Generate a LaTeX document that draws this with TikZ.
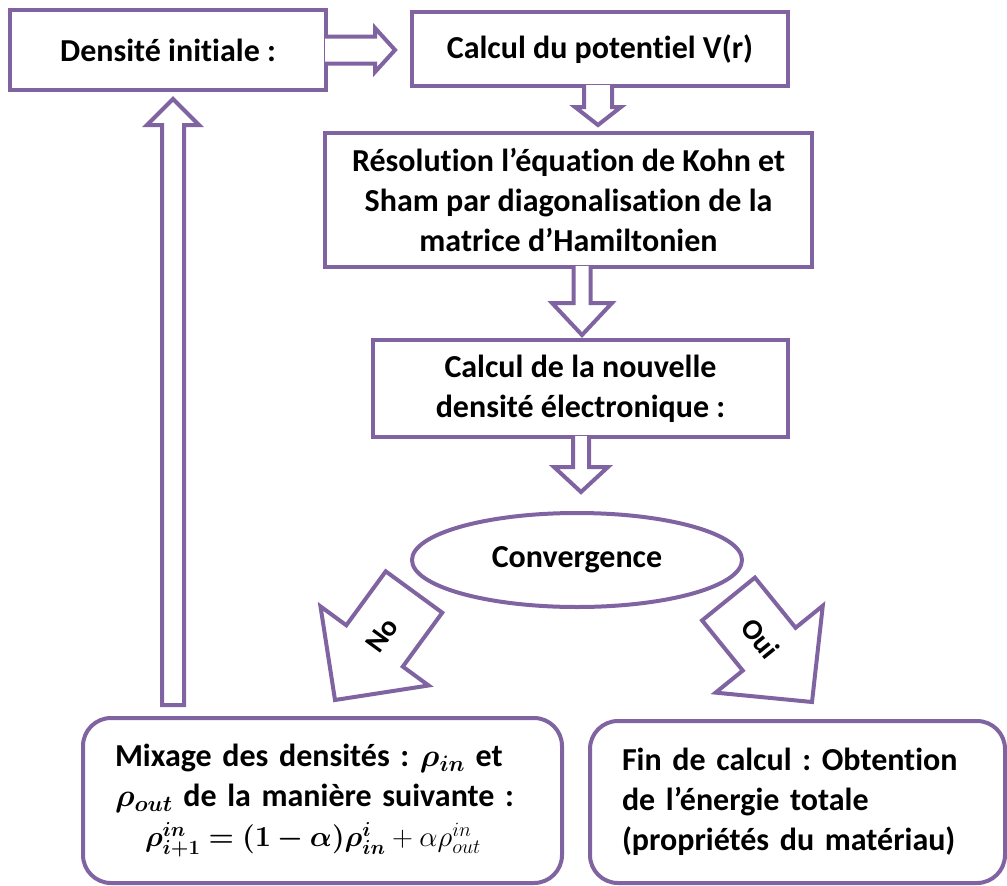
\RequirePackage{fix-cm}
\documentclass[tikz,border=0pt]{standalone}
\usepackage{amsmath}
\usepackage{bm}
\usepackage[no-math]{fontspec}
\setmainfont{Carlito}[Ligatures=NoCommon]
\usetikzlibrary{shapes.geometric,calc}
\definecolor{kspurple}{HTML}{8064A2}
\frenchspacing

\newcommand{\blockarrow}[6][]{%
  \fill[white] ($(#2)!#4!90:(#3)$) -- ($(#3)!#6!(#2)!#4!90:(#3)$) -- ($(#3)!#6!(#2)!#5!90:(#3)$) -- (#3)
    -- ($(#3)!#6!(#2)!#5!-90:(#3)$) -- ($(#3)!#6!(#2)!#4!-90:(#3)$) -- ($(#2)!#4!-90:(#3)$) -- cycle;
  \draw[arrline] ($(#2)!#4!90:(#3)$) -- ($(#3)!#6!(#2)!#4!90:(#3)$) -- ($(#3)!#6!(#2)!#5!90:(#3)$) -- (#3)
    -- ($(#3)!#6!(#2)!#5!-90:(#3)$) -- ($(#3)!#6!(#2)!#4!-90:(#3)$) -- ($(#2)!#4!-90:(#3)$) #1;
}

\begin{document}
\begin{tikzpicture}[x=1pt, y=-1pt,
  box/.style={draw=kspurple, line width=4pt, fill=white, align=center, inner sep=0pt, font=\fontsize{32}{40}\selectfont\bfseries},
  rbox/.style={box, rounded corners=28pt, align=left},
  arrline/.style={draw=kspurple, line width=4pt, line join=miter},
  lbl/.style={font=\fontsize{29}{36}\selectfont\bfseries}
]
  \useasboundingbox (0,0) rectangle (1007,886);

  \node[box, minimum width=316pt, minimum height=80pt] (dens) at (168,50) {Densité initiale :};
  \node[box, minimum width=376pt, minimum height=74pt] (pot) at (600,49) {Calcul du potentiel V(r)};
  \node[box, minimum width=487pt, minimum height=134pt] (kohn) at (568.5,200) {Résolution l’équation de Kohn et\\Sham par diagonalisation de la\\matrice d’Hamiltonien};
  \node[box, minimum width=415pt, minimum height=97pt] (dnew) at (580.5,388.5) {Calcul de la nouvelle\\densité électronique :};
  \node[box, ellipse, minimum width=330pt, minimum height=94pt] (conv) at (577,560) {Convergence};
  \node[rbox, minimum width=479pt, minimum height=165pt, text width=415pt] (mix) at (322.5,800.5) {Mixage des densités : $\bm{\rho_{in}}$ et\\$\bm{\rho_{out}}$ de la manière suivante :\\\hspace*{30pt}{\fontsize{29}{40}\selectfont$\bm{\rho^{in}_{i+1}=(1-\alpha)\rho^{i}_{in}}+\alpha\rho^{in}_{out}$}};
  \node[rbox, minimum width=415pt, minimum height=162pt, text width=351pt] (fin) at (797.5,802) {Fin de calcul : Obtention\\de l’énergie totale\\(propriétés du matériau)};

  \coordinate (a1s) at ($(dens.east)+(-3,0)$);
  \coordinate (a1e) at ($(a1s -| pot.west)+(-15,0)$);
  \coordinate (a2s) at ($(pot.south)+(-2,-3)$);
  \coordinate (a2e) at ($(pot.south)+(-2,37)$);
  \coordinate (a3s) at ($(kohn.south)+(13.5,-3)$);
  \coordinate (a3e) at ($(dnew.north)+(1.5,-3)$);
  \coordinate (a4s) at ($(dnew.south)+(0.5,-3)$);
  \coordinate (a4e) at ($(dnew.south)+(0.5,53)$);
  \coordinate (uptip) at ($(dens.south)+(5,7)$);
  \coordinate (upbase) at ($(uptip |- mix.north)+(0,-11)$);
  \coordinate (nobase) at (414,592);
  \coordinate (notip) at (335,700);
  \coordinate (ouibase) at (728.5,599);
  \coordinate (ouitip) at (812,702);

  \blockarrow{a1s}{a1e}{13.5pt}{22pt}{20pt}
  \blockarrow{a2s}{a2e}{14pt}{23pt}{18pt}
  \blockarrow{a3s}{a3e}{8.5pt}{30pt}{32pt}
  \blockarrow{a4s}{a4e}{8pt}{27pt}{25pt}
  \blockarrow[-- cycle]{upbase}{uptip}{11pt}{26pt}{26pt}
  \blockarrow[-- cycle]{nobase}{notip}{35pt}{67pt}{67pt}
  \blockarrow[-- cycle]{ouibase}{ouitip}{34pt}{69pt}{68pt}

  \node[lbl, rotate=54] (nolbl) at ($(nobase)!0.4!(notip)$) {No};
  \node[lbl, rotate=-51] (ouilbl) at ($(ouibase)!0.38!(ouitip)$) {Oui};
\end{tikzpicture}
\end{document}
